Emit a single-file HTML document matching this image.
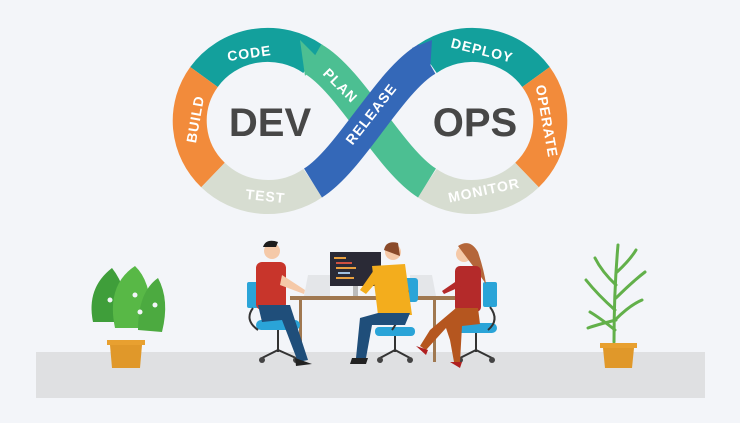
<!DOCTYPE html>
<html><head><meta charset="utf-8"><style>
html,body{margin:0;padding:0;background:#f3f5f9;}
svg{display:block}
text{font-family:"Liberation Sans",sans-serif;font-weight:bold;}
</style></head><body>
<svg width="740" height="423" viewBox="0 0 740 423" xmlns="http://www.w3.org/2000/svg">
<rect width="740" height="423" fill="#f3f5f9"/>
<rect x="36" y="352" width="669" height="46" fill="#dfe0e2"/>

<g fill="none" stroke-width="34" stroke-linecap="butt">
  <path d="M204,77 A78,76 0 0 1 313,59" stroke="#13a09c"/>
  <path d="M204,77 A78,76 0 0 0 213,175" stroke="#f28b3b"/>
  <path d="M213,175 A78,76 0 0 0 313,183" stroke="#d7ddd1"/>
  <path d="M427,59 A78,76 0 0 1 536,77" stroke="#13a09c"/>
  <path d="M536,77 A78,76 0 0 1 527,175" stroke="#f28b3b"/>
  <path d="M527,175 A78,76 0 0 1 427,183" stroke="#d7ddd1"/>
  <path d="M313,59 C350,80 390,160 427,183" stroke="#4cbf92"/>
  <path d="M313,183 C350,160 390,80 427,59" stroke="#3468b8"/>
</g>
<polygon points="300,40 318,58 305,76" fill="#4cbf92"/>
<polygon points="412,48 432,40 430,72" fill="#3468b8"/>
<text x="270" y="136" font-size="40" fill="#474747" text-anchor="middle">DEV</text>
<text x="475" y="136" font-size="40" fill="#474747" text-anchor="middle">OPS</text>
<g fill="#fff" font-size="14" text-anchor="middle" letter-spacing="1">
  <text transform="translate(250,58) rotate(-8)">CODE</text>
  <text transform="translate(200,120) rotate(-80)">BUILD</text>
  <text transform="translate(265,201) rotate(6)">TEST</text>
  <text transform="translate(337,89) rotate(45)">PLAN</text>
  <text transform="translate(375,117) rotate(-52)">RELEASE</text>
  <text transform="translate(481,55) rotate(14)">DEPLOY</text>
  <text transform="translate(542,122) rotate(80)">OPERATE</text>
  <text transform="translate(485,195) rotate(-12)">MONITOR</text>
</g>

<rect x="290" y="296" width="165" height="4" fill="#a07850"/>
<rect x="299" y="300" width="3" height="52" fill="#a07850"/>
<rect x="433" y="300" width="3" height="62" fill="#a07850"/>
<polygon points="308,275 330,275 330,296 304,296" fill="#e4e6e9"/>
<polygon points="410,275 432,275 436,296 410,296" fill="#e4e6e9"/>
<rect x="330" y="252" width="51" height="34" fill="#2a2a36"/>
<rect x="353" y="286" width="5" height="10" fill="#bbb"/>
<g stroke-width="2">
<line x1="334" y1="258" x2="346" y2="258" stroke="#e8a040"/>
<line x1="336" y1="263" x2="352" y2="263" stroke="#d05040"/>
<line x1="336" y1="268" x2="356" y2="268" stroke="#e8a040"/>
<line x1="338" y1="273" x2="350" y2="273" stroke="#a0c0e0"/>
<line x1="336" y1="278" x2="354" y2="278" stroke="#e8a040"/>
</g>

<g fill="#2aa4d8">
<rect x="247" y="282" width="13" height="26" rx="2"/>
<rect x="256" y="320" width="44" height="10" rx="5"/>
<rect x="375" y="327" width="40" height="9" rx="4"/>
<rect x="391" y="278" width="27" height="24" rx="3"/>
<rect x="483" y="282" width="14" height="25" rx="2"/>
<rect x="455" y="323" width="42" height="10" rx="5"/>
</g>
<g stroke="#333" stroke-width="2" fill="none">
<path d="M253,308 Q244,320 258,330"/><path d="M278,330 V352 M262,358 L278,350 L296,358"/>
<path d="M395,336 V352 M380,358 L395,350 L410,358"/><path d="M405,292 Q400,320 392,330"/>
<path d="M490,307 Q500,320 488,330"/><path d="M476,333 V352 M460,358 L476,350 L492,358"/>
</g>
<circle cx="405" cy="292" r="4" fill="#222"/>
<g fill="#444"><circle cx="262" cy="360" r="3"/><circle cx="296" cy="360" r="3"/><circle cx="380" cy="360" r="3"/><circle cx="410" cy="360" r="3"/><circle cx="460" cy="360" r="3"/><circle cx="492" cy="360" r="3"/></g>

<circle cx="272" cy="251" r="8" fill="#f5c9a8"/>
<path d="M263,247 Q266,238 278,242 L276,247 Z" fill="#1d1d1d"/>
<rect x="256" y="262" width="30" height="48" rx="6" fill="#c8352b"/>
<path d="M282,275 L305,290 L304,294 L280,285 Z" fill="#f5c9a8"/>
<path d="M258,305 L290,305 L308,360 L298,362 L282,320 L262,322 Z" fill="#1f4e7a"/>
<path d="M295,358 L312,364 L296,366 Z" fill="#222"/>
<circle cx="393" cy="252" r="8" fill="#f5c9a8"/>
<path d="M384,250 Q386,240 398,243 L400,256 Z" fill="#8a4a2a"/>
<path d="M372,266 L405,264 L412,315 L378,315 Z" fill="#f3ad1d"/>
<path d="M374,270 L360,290 L366,294 L380,278 Z" fill="#f3ad1d"/>
<path d="M378,313 L410,313 L405,325 L372,325 L366,358 L356,358 L360,318 Z" fill="#1f4e7a"/>
<path d="M352,358 L368,358 L366,364 L350,364 Z" fill="#222"/>
<circle cx="464" cy="254" r="8" fill="#f5c9a8"/>
<path d="M458,246 Q470,238 478,252 Q484,270 486,284 L476,270 Z" fill="#b4663a"/>
<rect x="455" y="266" width="26" height="46" rx="5" fill="#b42a2a"/>
<path d="M458,280 L442,291 L444,294 L462,286 Z" fill="#b42a2a"/>
<path d="M478,308 L456,308 L430,330 L420,346 L426,350 L446,328 L450,340 L454,362 L460,362 L462,326 L480,324 Z" fill="#b5561f"/>
<path d="M416,346 L428,350 L426,355 Z" fill="#b02020"/>
<path d="M450,362 L462,362 L460,368 Z" fill="#b02020"/>

<g>
<path d="M93,322 Q86,288 112,268 Q128,288 128,322 Z" fill="#3f9e3a"/>
<path d="M115,328 Q106,285 135,266 Q154,284 150,328 Z" fill="#58b846"/>
<path d="M138,330 Q138,292 158,278 Q170,300 162,332 Z" fill="#4caa40"/>
<circle cx="110" cy="300" r="2.5" fill="#f3f5f9"/><circle cx="135" cy="295" r="2.5" fill="#f3f5f9"/><circle cx="140" cy="312" r="2.5" fill="#f3f5f9"/><circle cx="155" cy="305" r="2.5" fill="#f3f5f9"/>
</g>
<rect x="107" y="340" width="38" height="5" fill="#e8a030"/>
<polygon points="110,345 142,345 140,368 112,368" fill="#e0982a"/>
<g stroke="#62b04a" stroke-width="3" stroke-linecap="round" fill="none">
<path d="M614,342 Q614,290 618,245"/>
<path d="M615,330 Q600,318 590,312"/><path d="M615,320 Q630,305 642,300"/>
<path d="M615,310 Q598,295 586,280"/><path d="M616,298 Q632,282 645,272"/>
<path d="M616,285 Q602,272 595,258"/><path d="M617,272 Q630,260 636,250"/>
<path d="M616,320 Q596,325 588,328"/>
</g>
<rect x="600" y="343" width="37" height="5" fill="#e8a030"/>
<polygon points="603,348 634,348 632,368 605,368" fill="#e0982a"/>
</svg>
</body></html>
